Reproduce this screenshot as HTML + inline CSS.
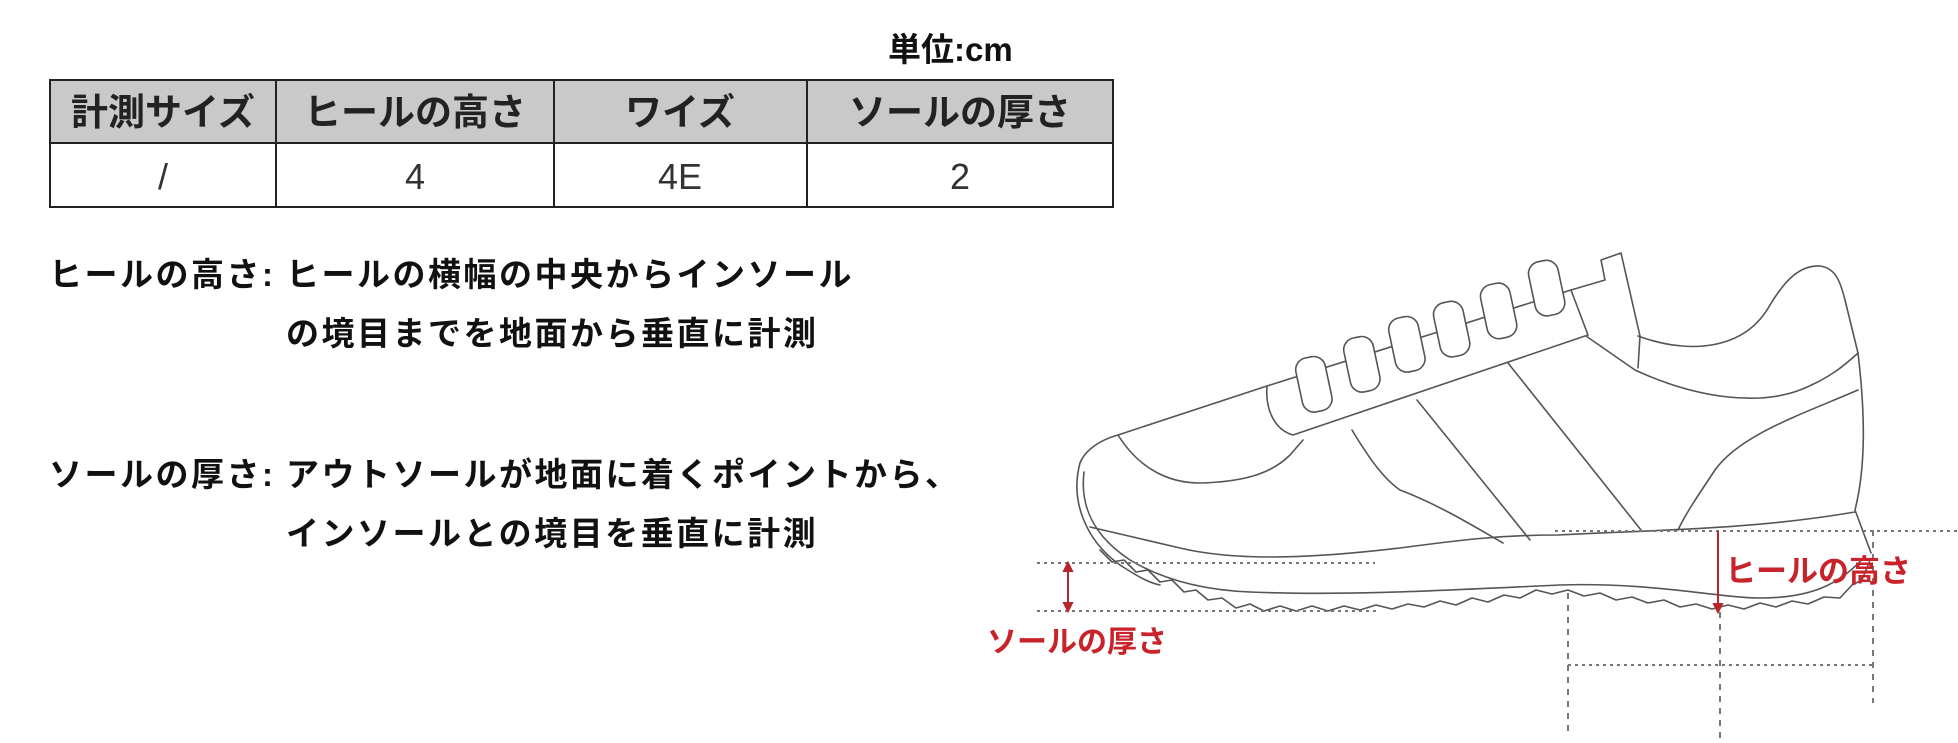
<!DOCTYPE html>
<html><head><meta charset="utf-8"><style>
html,body{margin:0;padding:0;background:#fff;}
svg{display:block;}
.jp{font-family:"Liberation Sans","Noto Sans CJK JP",sans-serif;}
</style></head><body>
<svg width="1958" height="743" viewBox="0 0 1958 743" xmlns="http://www.w3.org/2000/svg">
<rect width="1958" height="743" fill="#fff"/>
<text x="888" y="61" class="jp" font-size="33" font-weight="bold" fill="#111">単位:cm</text>
<rect x="50" y="80" width="1063" height="63" fill="#c9c9c9"/>
<g stroke="#222" stroke-width="2" fill="none">
<rect x="50" y="80" width="1063" height="127"/>
<line x1="50" y1="143" x2="1113" y2="143"/>
<line x1="276" y1="80" x2="276" y2="207"/>
<line x1="554" y1="80" x2="554" y2="207"/>
<line x1="807" y1="80" x2="807" y2="207"/>
</g>
<g class="jp" font-size="37" font-weight="bold" fill="#222" text-anchor="middle">
<text x="163" y="125">計測サイズ</text>
<text x="415" y="125">ヒールの高さ</text>
<text x="680" y="125">ワイズ</text>
<text x="960" y="125">ソールの厚さ</text>
</g>
<g class="jp" font-size="36" fill="#333" text-anchor="middle">
<text x="163" y="189">/</text>
<text x="415" y="189">4</text>
<text x="680" y="189">4E</text>
<text x="960" y="189">2</text>
</g>
<g class="jp" font-size="33" font-weight="bold" fill="#111" letter-spacing="2.5">
<text x="49" y="286">ヒールの高さ:</text>
<text x="286" y="286">ヒールの横幅の中央からインソール</text>
<text x="286" y="345">の境目までを地面から垂直に計測</text>
<text x="49" y="486">ソールの厚さ:</text>
<text x="286" y="486">アウトソールが地面に着くポイントから、</text>
<text x="286" y="545">インソールとの境目を垂直に計測</text>
</g>
<g stroke="#555" stroke-width="1.6" fill="none" stroke-linejoin="round" stroke-linecap="round">
<path d="M1080,463 C1085,450 1100,440 1118,435 L1267,386"/>
<path d="M1080,463 C1070,500 1085,540 1120,565 C1140,578 1150,583 1160,585"/>
<path d="M1084,472 C1080,505 1092,535 1130,560 C1160,578 1200,590 1250,592 C1350,596 1450,590 1560,585 C1650,582 1720,598 1760,598 C1810,598 1840,585 1865,556"/>
<path d="M1090,527 L1180,548 C1230,560 1300,560 1400,548 C1460,540 1500,535 1558,535 C1650,530 1750,530 1855,512"/>
<path d="M1638,336 C1690,355 1745,350 1770,305 C1785,280 1800,265 1820,266 C1835,268 1840,280 1845,300 L1858,353 C1866,420 1865,470 1855,510 L1871,553"/>
<path d="M1586,336 L1635,370 C1700,400 1760,405 1800,390 C1830,378 1845,365 1858,353"/>
<path d="M1858,390 C1800,415 1740,435 1715,470 C1695,500 1685,515 1678,530"/>
<path d="M1571,290 L1605,280 L1601,260 L1621,253 L1640,336 L1638,368"/>
<path d="M1267,386 L1571,290 L1588,335 L1293,435 C1275,430 1265,410 1267,386 Z" fill="#fff"/>
<path d="M1118,435 C1140,470 1170,483 1200,483 C1240,482 1270,475 1290,455 L1303,440"/>
<path d="M1352,430 C1370,460 1385,480 1400,490 C1440,505 1480,530 1503,543"/>
<path d="M1417,400 L1530,540"/>
<path d="M1508,363 L1641,530"/>
<g fill="#fff">
<rect x="1299" y="357" width="30" height="55" rx="12" transform="rotate(-12 1313 385)"/>
<rect x="1347" y="337" width="30" height="55" rx="12" transform="rotate(-12 1361 365)"/>
<rect x="1392" y="317" width="30" height="55" rx="12" transform="rotate(-12 1406 345)"/>
<rect x="1437" y="302" width="30" height="55" rx="12" transform="rotate(-12 1450 331)"/>
<rect x="1484" y="284" width="30" height="55" rx="12" transform="rotate(-12 1496 313)"/>
<rect x="1532" y="261" width="30" height="55" rx="12" transform="rotate(-12 1545 290)"/>
</g>
<polyline points="1100,550 1112,562 1124,560 1136,572 1148,570 1160,582 1172,580 1184,592 1196,590 1208,600 1222,598 1236,608 1250,604 1264,611 1280,606 1296,611 1312,606 1328,611 1344,606 1360,610 1376,605 1392,609 1408,604 1424,607 1440,601 1456,605 1472,598 1488,602 1504,595 1520,598 1536,590 1552,594 1568,590 1584,596 1600,593 1616,600 1632,597 1648,603 1664,600 1680,607 1696,604 1712,609 1728,605 1744,609 1760,603 1776,607 1792,601 1808,604 1824,597 1840,598 1852,585 1862,580 1870,560"/>
</g>
<g stroke="#777" stroke-width="2" stroke-dasharray="3,4" fill="none">
<line x1="1037" y1="563" x2="1375" y2="563"/>
<line x1="1037" y1="611" x2="1378" y2="611"/>
<line x1="1555" y1="531" x2="1958" y2="531"/>
<line x1="1568" y1="665" x2="1873" y2="665"/>
</g>
<g stroke="#777" stroke-width="2" stroke-dasharray="6,6" fill="none">
<line x1="1568" y1="593" x2="1568" y2="735"/>
<line x1="1720" y1="612" x2="1720" y2="740"/>
<line x1="1873" y1="530" x2="1873" y2="703"/>
</g>
<g stroke="#b8262d" stroke-width="2" fill="#b8262d">
<line x1="1068" y1="565" x2="1068" y2="609"/>
<path d="M1068,563 L1064,571 L1072,571 Z"/>
<path d="M1068,611 L1064,603 L1072,603 Z"/>
<line x1="1718" y1="531" x2="1718" y2="608"/>
<path d="M1718,612 L1714,604 L1722,604 Z"/>
</g>
<text x="987" y="652" class="jp" font-size="30" font-weight="bold" fill="#c8232b">ソールの厚さ</text>
<text x="1725" y="582" class="jp" font-size="31" font-weight="bold" fill="#c8232b">ヒールの高さ</text>
</svg>
</body></html>
